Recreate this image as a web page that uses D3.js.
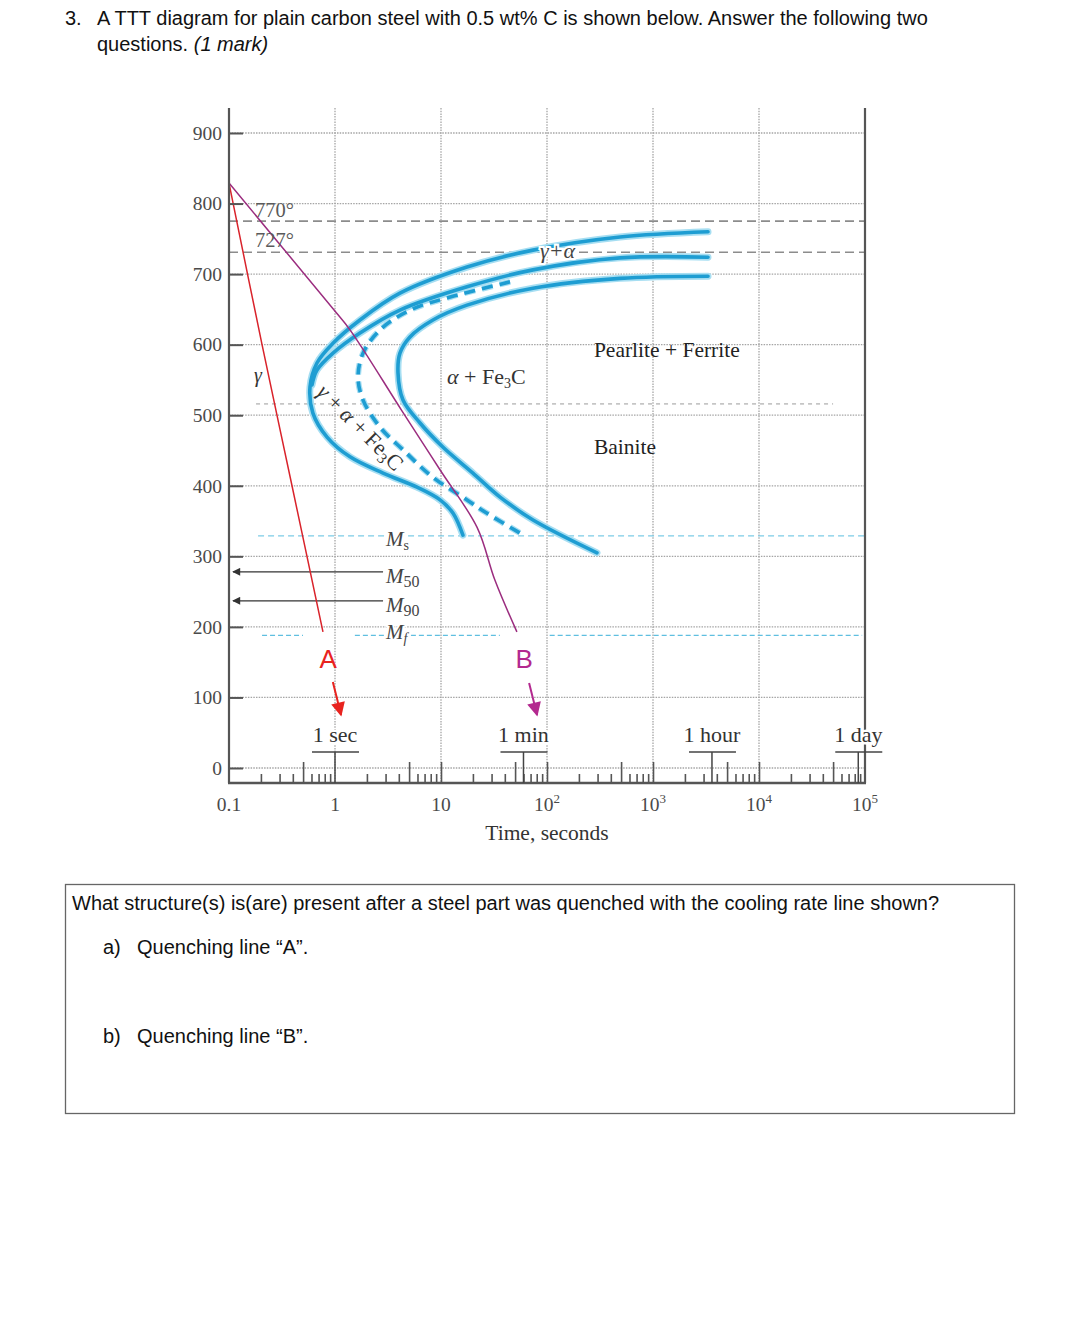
<!DOCTYPE html>
<html><head><meta charset="utf-8">
<script src="https://cdn.jsdelivr.net/npm/d3@7"></script>
<style>
body{margin:0;background:#fff;}
svg{display:block;}
</style></head>
<body>
<svg id="c" width="1080" height="1320"></svg>
<script>
// ---------- data ----------
const yTicks = [0,100,200,300,400,500,600,700,800,900];
const xTickVals = [0.1,1,10,100,1000,10000,100000];
const xTickBase = ["0.1","1","10","10","10","10","10"];
const xTickExp  = ["","","","2","3","4","5"];
const gridTimes = [1,10,100,1000,10000];
const timeMarks = [["1 sec",1],["1 min",60],["1 hour",3600],["1 day",86400]];
const eutectoidTemps = [[775,"770°"],[731,"727°"]];
const dashedRefTemp = 516;            // thin grey dashed line
const dashedRefTimes = [0.18,50000];
const MsTemp = 329, M50Temp = 278, M90Temp = 237, MfTemp = 188;
const MsTimes = [0.188,100000];
const MfSegments = [[0.205,0.499],[1.54,35.9],[106,94000]];
const MArrowTimes = [2.84,0.109];

// transformation curves [time s, temp °C]
const alphaStart = [[3304,760],[489,752.6],[73.8,734],[17.6,710],[4.1,673],[1.72,635],[0.957,602],[0.676,574],[0.581,540],[0.619,503],[0.841,469],[1.385,441],[2.84,418],[5.94,398],[9.8,380],[13.0,361],[16.1,330]];
const pearliteStart = [[3304,724],[489,723],[73.8,706],[17.6,682],[4.1,649],[1.72,616.5],[0.957,588],[0.676,564],[0.607,543]];
const fifty = [[44.8,689],[12.2,667.5],[5.1,649],[2.66,621],[1.84,588],[1.65,554],[1.84,521.5],[2.66,483],[4.38,451],[8.4,412],[17.6,380],[27.2,361],[55.6,333]];
const finish = [[3304,697],[489,694],[73.8,680],[17.6,656],[8.4,635],[5.1,611],[4.1,588],[3.93,560],[4.38,521.5],[6.34,489],[10.4,455],[20.0,418],[36.1,384],[73.8,351.5],[296,305]];

// quench lines
const quenchA = [[0.1,829],[0.205,600],[0.393,400],[0.77,193]];
const quenchB = [[0.1,829],[0.98,649],[1.385,621],[4.25,507],[9.85,422],[21.9,341],[32.3,266],[52,193]];
const arrowA = [[0.955,122],[1.14,75]];
const arrowB = [[67.8,120.5],[80.6,75]];

// labels [text, time, temp]
const regionLabels = [["Pearlite + Ferrite",277,582.5],["Bainite",277,445]];
const mLabels = [["s",3.03,314.6],["50",3.03,262],["90",3.03,221],["f",3.03,183]];

// ---------- layout ----------
const svg = d3.select("#c");
const x = d3.scaleLog().domain([0.1,1e5]).range([229,865]);
const y = d3.scaleLinear().domain([0,900]).range([768,133]);
const yTopPx = 108, yBotPx = 783;
const serif = "'Liberation Serif','Times New Roman',serif";
const sans = "'Liberation Sans',Arial,sans-serif";

// header
const hdr = svg.append("g").attr("font-family",sans).attr("font-size",20).attr("fill","#111");
hdr.append("text").attr("x",65).attr("y",25).text("3.");
hdr.append("text").attr("x",97).attr("y",25).text("A TTT diagram for plain carbon steel with 0.5 wt% C is shown below. Answer the following two");
const h2 = hdr.append("text").attr("x",97).attr("y",51).text("questions. ");
h2.append("tspan").attr("font-style","italic").text("(1 mark)");

// grid
const g = svg.append("g");
g.selectAll(".hg").data(yTicks).join("line")
  .attr("x1",229).attr("x2",865).attr("y1",d=>y(d)).attr("y2",d=>y(d))
  .attr("stroke","#a5a5a5").attr("stroke-width",1.3).attr("stroke-dasharray","1.5,1.2");
g.selectAll(".vg").data(gridTimes).join("line")
  .attr("x1",d=>x(d)).attr("x2",d=>x(d)).attr("y1",yTopPx).attr("y2",yBotPx)
  .attr("stroke","#a5a5a5").attr("stroke-width",1.3).attr("stroke-dasharray","1.5,1.2");

// eutectoid dashed lines
g.selectAll(".eu").data(eutectoidTemps).join("line")
  .attr("x1",229).attr("x2",865).attr("y1",d=>y(d[0])).attr("y2",d=>y(d[0]))
  .attr("stroke","#8c8c8c").attr("stroke-width",1.7).attr("stroke-dasharray","9,5");
g.append("line").attr("x1",x(dashedRefTimes[0])).attr("x2",x(dashedRefTimes[1]))
  .attr("y1",y(dashedRefTemp)).attr("y2",y(dashedRefTemp))
  .attr("stroke","#9a9a9a").attr("stroke-width",1).attr("stroke-dasharray","4,4");

// Ms / Mf
g.append("line").attr("x1",x(MsTimes[0])).attr("x2",x(MsTimes[1])).attr("y1",y(MsTemp)).attr("y2",y(MsTemp))
  .attr("stroke","#7ccbe6").attr("stroke-width",1.3).attr("stroke-dasharray","6,4");
g.selectAll(".mf").data(MfSegments).join("line")
  .attr("x1",d=>x(d[0])).attr("x2",d=>x(d[1])).attr("y1",y(MfTemp)).attr("y2",y(MfTemp))
  .attr("stroke","#5fbfe0").attr("stroke-width",1.3).attr("stroke-dasharray","5,3");

// defs markers
const defs = svg.append("defs");
function marker(id,color,w,h){
  defs.append("marker").attr("id",id).attr("viewBox","0 0 10 10").attr("refX",9).attr("refY",5)
    .attr("markerWidth",w).attr("markerHeight",h).attr("markerUnits","userSpaceOnUse").attr("orient","auto")
    .append("path").attr("d","M0,0L10,5L0,10Z").attr("fill",color);
}
marker("mk","#333",12,8);
marker("mA","#e8231f",18,14);
marker("mB","#b3298f",18,14);

// M50, M90 arrows
[M50Temp,M90Temp].forEach(T=>{
  g.append("line").attr("x1",x(MArrowTimes[0])).attr("x2",x(MArrowTimes[1])).attr("y1",y(T)).attr("y2",y(T))
   .attr("stroke","#333").attr("stroke-width",1.3).attr("marker-end","url(#mk)");
});

// transformation curves
const line = d3.line().x(d=>x(d[0])).y(d=>y(d[1])).curve(d3.curveCatmullRom.alpha(0.5));
const blue = "#1e9dd2";
[alphaStart,pearliteStart,finish].forEach(c=>{
  g.append("path").attr("d",line(c)).attr("fill","none").attr("stroke","#a6def2").attr("stroke-width",7).attr("stroke-linecap","round");
});
g.append("path").attr("d",line(fifty)).attr("fill","none").attr("stroke","#a6def2").attr("stroke-width",6).attr("stroke-dasharray","11,7");
[alphaStart,pearliteStart,finish].forEach(c=>{
  g.append("path").attr("d",line(c)).attr("fill","none").attr("stroke",blue).attr("stroke-width",3.6).attr("stroke-linecap","round");
});
g.append("path").attr("d",line(fifty)).attr("fill","none").attr("stroke",blue).attr("stroke-width",3.6).attr("stroke-dasharray","11,7");

// quench lines
const qline = d3.line().x(d=>x(d[0])).y(d=>y(d[1])).curve(d3.curveCatmullRom.alpha(0.5));
g.append("path").attr("d",qline(quenchA)).attr("fill","none").attr("stroke","#d9232b").attr("stroke-width",1.5);
g.append("path").attr("d",qline(quenchB)).attr("fill","none").attr("stroke","#9b2d7f").attr("stroke-width",1.5);
g.append("line").attr("x1",x(arrowA[0][0])).attr("y1",y(arrowA[0][1])).attr("x2",x(arrowA[1][0])).attr("y2",y(arrowA[1][1]))
  .attr("stroke","#e8231f").attr("stroke-width",2).attr("marker-end","url(#mA)");
g.append("line").attr("x1",x(arrowB[0][0])).attr("y1",y(arrowB[0][1])).attr("x2",x(arrowB[1][0])).attr("y2",y(arrowB[1][1]))
  .attr("stroke","#b3298f").attr("stroke-width",2).attr("marker-end","url(#mB)");
g.append("text").attr("x",x(0.86)).attr("y",y(142)).attr("text-anchor","middle").attr("font-family",sans).attr("font-size",26).attr("fill","#e8231f").text("A");
g.append("text").attr("x",x(61)).attr("y",y(142)).attr("text-anchor","middle").attr("font-family",sans).attr("font-size",26).attr("fill","#b3298f").text("B");

// axes
g.append("line").attr("x1",229).attr("x2",229).attr("y1",yTopPx).attr("y2",yBotPx).attr("stroke","#555").attr("stroke-width",2.2);
g.append("line").attr("x1",228).attr("x2",866).attr("y1",yBotPx).attr("y2",yBotPx).attr("stroke","#555").attr("stroke-width",2.6);
g.append("line").attr("x1",865).attr("x2",865).attr("y1",yTopPx).attr("y2",yBotPx).attr("stroke","#555").attr("stroke-width",2.2);

const yAxis = d3.axisLeft(y).tickValues(yTicks).tickSize(-14).tickPadding(7).tickFormat(d3.format("d"));
const ya = g.append("g").attr("transform","translate(229,0)").call(yAxis);
ya.select(".domain").remove();
ya.selectAll("line").attr("stroke","#555").attr("stroke-width",2);
ya.selectAll("text").attr("font-family",serif).attr("font-size",19.5).attr("fill","#4a4a4a");

// x minor & major ticks
const minor=[], mid=[];
for(let e=-1;e<5;e++){ for(let k=2;k<10;k++){ const v=k*Math.pow(10,e); (k===5?mid:minor).push(v);} }
const xaMinor = g.append("g").attr("transform",`translate(0,${yBotPx})`).call(d3.axisTop(x).tickValues(minor).tickSize(9).tickFormat(""));
const xaMid = g.append("g").attr("transform",`translate(0,${yBotPx})`).call(d3.axisTop(x).tickValues(mid.concat([10,100,1000,10000])).tickSize(21).tickFormat(""));
[xaMinor,xaMid].forEach(a=>{a.select(".domain").remove(); a.selectAll("line").attr("stroke","#555").attr("stroke-width",1.6);});

// x labels
const xl = g.append("g").attr("font-family",serif).attr("font-size",19.5).attr("fill","#4a4a4a");
xTickVals.forEach((v,i)=>{
  const t = xl.append("text").attr("x",x(v)).attr("y",yBotPx+28).attr("text-anchor","middle");
  t.append("tspan").text(xTickBase[i]);
  if(xTickExp[i]) t.append("tspan").attr("font-size",13).attr("dy",-8).text(xTickExp[i]);
});
g.append("text").attr("x",x(100)).attr("y",yBotPx+57).attr("text-anchor","middle").attr("font-family",serif).attr("font-size",21.5).attr("fill","#333").text("Time, seconds");

// time brackets
timeMarks.forEach(([lab,t])=>{
  const cx = x(t);
  g.append("line").attr("x1",cx-23).attr("x2",cx+24).attr("y1",752).attr("y2",752).attr("stroke","#444").attr("stroke-width",1.5);
  g.append("line").attr("x1",cx).attr("x2",cx).attr("y1",752).attr("y2",yBotPx).attr("stroke","#444").attr("stroke-width",1.5);
  g.append("text").attr("x",cx).attr("y",742).attr("text-anchor","middle").attr("font-family",serif).attr("font-size",22)
   .attr("fill","#333").attr("stroke","#fff").attr("stroke-width",5).attr("paint-order","stroke").text(lab);
});

// annotations
const ann = g.append("g").attr("font-family",serif).attr("fill","#555");
eutectoidTemps.forEach(([T,lab],i)=>{
  ann.append("text").attr("x",x(0.176)).attr("y",y(i===0?781:738)).attr("font-size",20.5).attr("fill","#5a5a5a").text(lab);
});
ann.append("text").attr("x",x(85.9)).attr("y",y(723)).attr("font-size",22).attr("font-style","italic").attr("fill","#444")
  .attr("stroke","#fff").attr("stroke-width",4).attr("paint-order","stroke").text("γ+α");
regionLabels.forEach(([lab,t,T])=>{
  ann.append("text").attr("x",x(t)).attr("y",y(T)).attr("font-size",21.5).attr("fill","#222").text(lab);
});
const af = ann.append("text").attr("x",x(11.4)).attr("y",y(544)).attr("font-size",22).attr("fill","#333");
af.append("tspan").attr("font-style","italic").text("α");
af.append("tspan").text(" + Fe");
af.append("tspan").attr("font-size",14).attr("dy",4).text("3");
af.append("tspan").attr("dy",-4).text("C");
ann.append("text").attr("x",x(0.172)).attr("y",y(547)).attr("font-size",20).attr("font-style","italic").attr("fill","#333").text("γ");
// rotated label
const rx = x(0.66), ry = y(531);
const rt = ann.append("text").attr("transform",`translate(${rx},${ry}) rotate(45)`).attr("font-size",22).attr("fill","#333");
rt.append("tspan").attr("font-style","italic").text("γ");
rt.append("tspan").text(" + ");
rt.append("tspan").attr("font-style","italic").text("α");
rt.append("tspan").text(" + Fe");
rt.append("tspan").attr("font-size",15).attr("dy",4).text("3");
rt.append("tspan").attr("dy",-4).text("C");
// M labels
mLabels.forEach(([sub,t,T])=>{
  const m = ann.append("text").attr("x",x(t)).attr("y",y(T)).attr("font-size",21).attr("fill","#444")
    .attr("stroke","#fff").attr("stroke-width",4).attr("paint-order","stroke");
  m.append("tspan").attr("font-style","italic").text("M");
  m.append("tspan").attr("font-size",sub==="s"||sub==="f"?14:16).attr("dy",4).attr("font-style",sub==="f"?"italic":"normal").text(sub);
});

// question box
const qb = svg.append("g").attr("font-family",sans).attr("font-size",20).attr("fill","#111");
qb.append("rect").attr("x",65.5).attr("y",884.5).attr("width",949).attr("height",229).attr("fill","none").attr("stroke","#666").attr("stroke-width",1.3);
qb.append("text").attr("x",72).attr("y",910).text("What structure(s) is(are) present after a steel part was quenched with the cooling rate line shown?");
qb.append("text").attr("x",103).attr("y",954).text("a)");
qb.append("text").attr("x",137).attr("y",954).text("Quenching line “A”.");
qb.append("text").attr("x",103).attr("y",1043).text("b)");
qb.append("text").attr("x",137).attr("y",1043).text("Quenching line “B”.");
</script>
</body></html>
